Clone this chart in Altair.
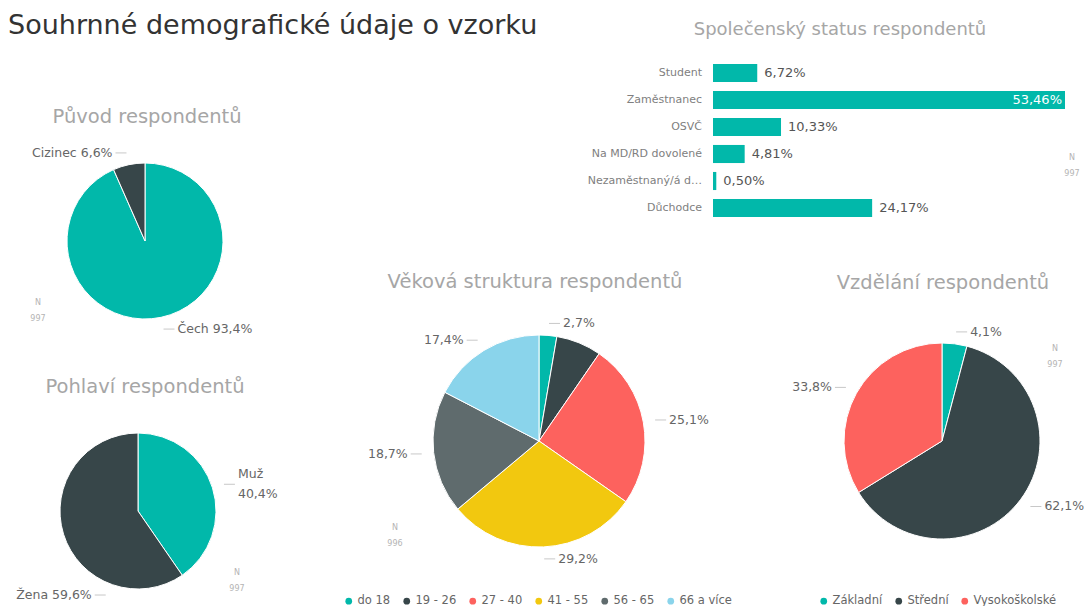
import altair as alt
import numpy as np
import pandas as pd

# ---------------- data ----------------
status_cats = ["Student", "Zaměstnanec", "OSVČ", "Na MD/RD dovolené", "Nezaměstnaný/á d…", "Důchodce"]
status_vals = [6.72, 53.46, 10.33, 4.81, 0.50, 24.17]

origin_cats = ["Čech", "Cizinec"]
origin_vals = [93.4, 6.6]

gender_cats = ["Muž", "Žena"]
gender_vals = [40.4, 59.6]

age_cats = ["do 18", "19 - 26", "27 - 40", "41 - 55", "56 - 65", "66 a více"]
age_vals = [2.7, 6.9, 25.1, 29.2, 18.7, 17.4]

edu_cats = ["Základní", "Střední", "Vysokoškolské"]
edu_vals = [4.1, 62.1, 33.8]

n_status, n_origin, n_gender, n_age, n_edu = 997, 997, 997, 996, 997

# ---------------- styles ----------------
TEAL, DARK, RED, YELLOW, GRAY, LBLUE = "#01B8AA", "#374649", "#FD625E", "#F2C80F", "#5F6B6D", "#8AD4EB"
FONT = "DejaVu Sans"
TITLE_C = "#a6a6a6"
LABEL_C = "#666666"
N_C = "#b4b4b4"
LINE_C = "#c8c8c8"

W, H = 1076, 598
LBL_SIZE = 12.5
LINE_H = 20


def pct(v, d=1):
    return f"{v:.{d}f}".replace(".", ",") + "%"


THETA = alt.Scale(domain=[0, 100], range=[0, 2 * np.pi])


def pie(cats, vals, colors, cx, cy, r, legend=None):
    df = pd.DataFrame({"cat": cats, "val": vals, "idx": range(len(cats))})
    return alt.Chart(df).mark_arc(outerRadius=r, stroke="white", strokeWidth=1).encode(
        theta=alt.Theta("val:Q", stack=True, scale=THETA),
        color=alt.Color("cat:N", scale=alt.Scale(domain=cats, range=colors), legend=legend),
        order=alt.Order("idx:Q"),
        x=alt.value(cx),
        y=alt.value(cy),
    )


def label_rows(vals, texts, cx, cy, r, k=12, angle_override=None):
    angle_override = angle_override or {}
    rows = []
    start = 0.0
    for i, (v, t) in enumerate(zip(vals, texts)):
        mid = start + v / 2
        start += v
        if t is None:
            continue
        ang = np.deg2rad(angle_override.get(i, mid / 100 * 360))
        s = np.sin(ang)
        side = 1 if s >= 0 else -1
        ax = cx + (r + k) * s
        ay = cy - (r + k) * np.cos(ang)
        nlines = t.count("\n") + 1
        rows.append({
            "x1": ax, "x2": ax + side * 11, "y": ay,
            "tx": ax + side * 14, "ty": ay - (nlines - 1) * LINE_H / 2, "text": t,
            "align": "left" if side > 0 else "right",
        })
    return rows


# ---------------- pies ----------------
P1 = (137, 233, 78)
P2 = (130, 503, 78)
P3 = (531, 433, 106)
P4 = (934, 433, 98)

age_colors = [TEAL, DARK, RED, YELLOW, GRAY, LBLUE]
edu_colors = [TEAL, DARK, RED]

leg_common = dict(orient="none", direction="horizontal", title=None, symbolType="circle",
                  symbolSize=45, labelFont=FONT, labelFontSize=11.5, labelColor=LABEL_C,
                  labelOffset=3, columnPadding=10, symbolStrokeWidth=0)

pie1 = pie(origin_cats, origin_vals, [TEAL, DARK], *P1)
pie2 = pie(gender_cats, gender_vals, [TEAL, DARK], *P2)
pie3 = pie(age_cats, age_vals, age_colors, *P3,
           legend=alt.Legend(legendX=335, legendY=587, **leg_common))
pie4 = pie(edu_cats, edu_vals, edu_colors, *P4,
           legend=alt.Legend(legendX=810, legendY=587, **leg_common))

rows = []
rows += label_rows(origin_vals, [f"{c} {pct(v)}" for c, v in zip(origin_cats, origin_vals)], *P1)
rows += label_rows(gender_vals, [f"{c}\n{pct(v)}" if i == 0 else f"{c} {pct(v)}"
                                 for i, (c, v) in enumerate(zip(gender_cats, gender_vals))],
                   *P2, angle_override={1: 201})
rows += label_rows(age_vals, [pct(v) if c != "19 - 26" else None for c, v in zip(age_cats, age_vals)], *P3)
rows += label_rows(edu_vals, [pct(v) for v in edu_vals], *P4)
ldf = pd.DataFrame(rows)

IDX = dict(scale=None)
leaders = alt.Chart(ldf).mark_rule(color=LINE_C, strokeWidth=1).encode(
    x=alt.X("x1:Q", **IDX), x2="x2:Q", y=alt.Y("y:Q", **IDX))
ltext_l = alt.Chart(ldf[ldf["align"] == "left"]).mark_text(
    align="left", baseline="middle", font=FONT, fontSize=LBL_SIZE, color=LABEL_C, lineBreak="\n",
    lineHeight=LINE_H
).encode(x=alt.X("tx:Q", **IDX), y=alt.Y("ty:Q", **IDX), text="text:N")
ltext_r = alt.Chart(ldf[ldf["align"] == "right"]).mark_text(
    align="right", baseline="middle", font=FONT, fontSize=LBL_SIZE, color=LABEL_C, lineBreak="\n",
    lineHeight=LINE_H
).encode(x=alt.X("tx:Q", **IDX), y=alt.Y("ty:Q", **IDX), text="text:N")

# ---------------- bar chart ----------------
sdf = pd.DataFrame({"cat": status_cats, "val": status_vals,
                    "lab": [pct(v, 2) for v in status_vals]})
xs = alt.Scale(domain=[0, max(status_vals)], range=[705, 1057])
ys = alt.Scale(domain=status_cats, range=[51.5, 213.5], paddingInner=0.33, paddingOuter=0.165)
X = alt.X("val:Q", scale=xs, axis=None)
Y = alt.Y("cat:N", scale=ys, axis=None, sort=status_cats)
vmax = max(status_vals)
bars = alt.Chart(sdf).mark_bar(color=TEAL).encode(x=X, y=Y)
cat_lab = alt.Chart(sdf).mark_text(align="right", baseline="middle", font=FONT, fontSize=11,
                                   color="#808080").encode(x=alt.value(694), y=Y, text="cat:N")
val_out = alt.Chart(sdf[sdf["val"] < vmax]).mark_text(
    align="left", baseline="middle", dx=7, font=FONT, fontSize=13, color="#555555"
).encode(x=X, y=Y, text="lab:N")
val_in = alt.Chart(sdf[sdf["val"] == vmax]).mark_text(
    align="right", baseline="middle", dx=-3, font=FONT, fontSize=13, color="white"
).encode(x=X, y=Y, text="lab:N")
barchart = alt.layer(bars, cat_lab, val_out, val_in)


# ---------------- titles and N notes ----------------
def txt(s, x, y, size, color, align="center", baseline="middle", weight="normal"):
    d = pd.DataFrame({"t": [s]})
    return alt.Chart(d).mark_text(align=align, baseline=baseline, font=FONT, fontSize=size,
                                  color=color, fontWeight=weight).encode(
        x=alt.value(x), y=alt.value(y), text="t:N")


texts = [
    txt("Souhrnné demografické údaje o vzorku", 0, 26, 27, "#333333", align="left", baseline="alphabetic"),
    txt("Společenský status respondentů", 832, 22, 18, TITLE_C),
    txt("Původ respondentů", 139, 109, 19.5, TITLE_C),
    txt("Pohlaví respondentů", 137, 379, 19.5, TITLE_C),
    txt("Věková struktura respondentů", 527, 274, 19.5, TITLE_C),
    txt("Vzdělání respondentů", 935, 275, 19.5, TITLE_C),
]
for (x, y, n) in [(30, 295, n_origin), (229, 565, n_gender), (387, 520, n_age),
                  (1047, 341, n_edu), (1064, 150, n_status)]:
    texts.append(txt("N", x, y, 8, N_C))
    texts.append(txt(str(n), x, y + 16, 8, N_C))

chart = alt.layer(
    pie1, pie2, pie3, pie4, leaders, ltext_l, ltext_r, barchart, *texts
).resolve_scale(
    x="independent", y="independent", color="independent"
).properties(
    width=W, height=H, padding=0, autosize=alt.AutoSizeParams(type="none"), background="white"
).configure_view(stroke=None)

chart.save("out.html", embed_options={"renderer": "svg", "actions": False})
